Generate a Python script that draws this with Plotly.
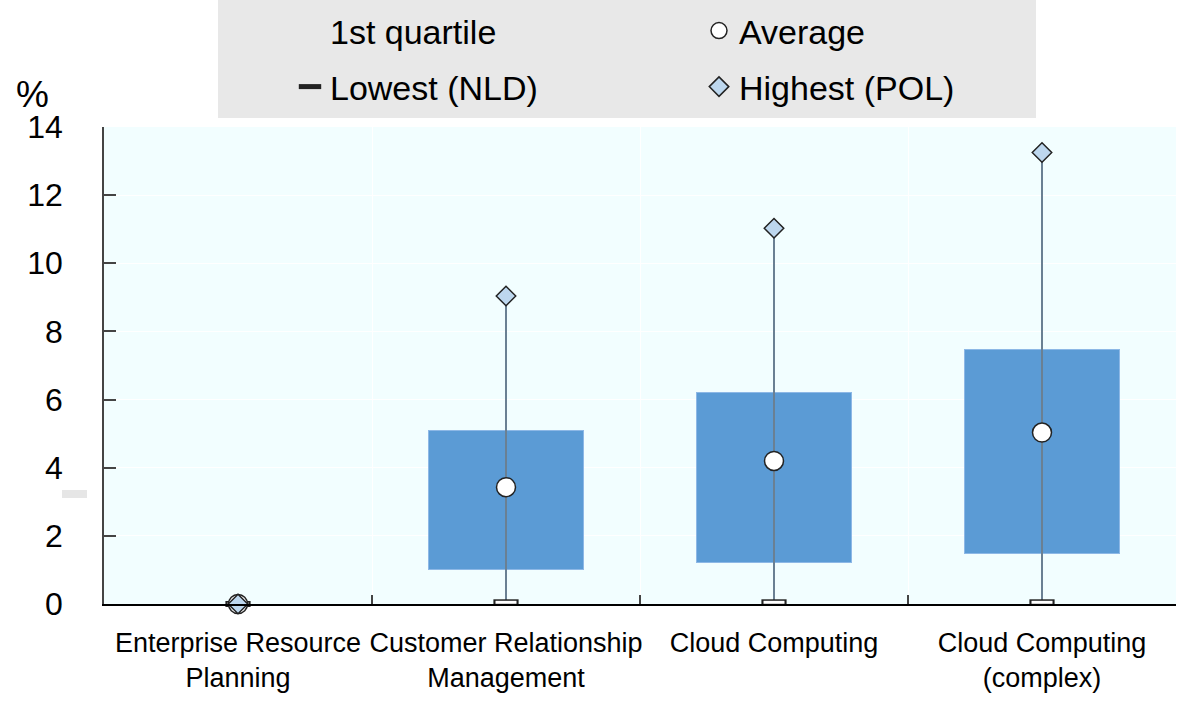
import plotly.graph_objects as go

# Category labels and summary statistics (%)
categories = [
    "Enterprise Resource<br>Planning",
    "Customer Relationship<br>Management",
    "Cloud Computing",
    "Cloud Computing<br>(complex)",
]
first_quartile = [0.0, 1.0, 1.22, 1.48]
third_quartile = [0.0, 5.08, 6.2, 7.46]
average = [0.0, 3.43, 4.2, 5.03]
lowest_nld = [0.0, 0.05, 0.05, 0.05]
highest_pol = [0.0, 9.04, 11.03, 13.25]

FONT = "Liberation Sans, Arial, sans-serif"
BAR_BLUE = "#5B9BD5"
WHISKER = "#6A8093"
OUTLINE = "#222222"

W, H = 1192, 706
L, R, T, B = 104, 16, 127, 102
pw, ph = W - L - R, H - T - B


def px_x(x):
    return (x - L) / pw


def px_y(y):
    return (H - B - y) / ph


fig = go.Figure()

# invisible base up to the first quartile (legend entry only)
fig.add_trace(go.Bar(
    x=categories, y=first_quartile, name="1st quartile",
    marker=dict(color="rgba(0,0,0,0)", line=dict(width=0)),
    legend="legend", legendrank=1, hoverinfo="skip",
))
# interquartile range stacked on top
iqr = [q3 - q1 for q1, q3 in zip(first_quartile, third_quartile)]
fig.add_trace(go.Bar(
    x=categories, y=iqr, name="Interquartile range",
    marker=dict(color=BAR_BLUE, line=dict(width=1, color="#8DB8E6")),
    showlegend=False,
))

# whiskers from lowest to highest
wx, wy = [], []
for c, lo, hi in zip(categories, lowest_nld, highest_pol):
    wx += [c, c, None]
    wy += [lo, hi, None]
fig.add_trace(go.Scatter(
    x=wx, y=wy, mode="lines", line=dict(color=WHISKER, width=2),
    showlegend=False, hoverinfo="skip", cliponaxis=False,
))

# lowest value: outlined flat rectangle
fig.add_trace(go.Scatter(
    x=categories, y=lowest_nld, mode="markers", name="Lowest (NLD)",
    marker=dict(symbol="line-ew", size=18, color=OUTLINE,
                line=dict(width=6, color=OUTLINE)),
    cliponaxis=False, legend="legend2", legendrank=3,
))
fig.add_trace(go.Scatter(
    x=categories, y=lowest_nld, mode="markers", showlegend=False,
    marker=dict(symbol="line-ew", size=15, color="white",
                line=dict(width=3, color="white")),
    cliponaxis=False, hoverinfo="skip",
))

fig.add_trace(go.Scatter(
    x=categories, y=average, mode="markers", name="Average",
    marker=dict(symbol="circle", size=19, color="white",
                line=dict(width=1.5, color=OUTLINE)),
    cliponaxis=False, legend="legend", legendrank=2,
))
fig.add_trace(go.Scatter(
    x=categories, y=highest_pol, mode="markers", name="Highest (POL)",
    marker=dict(symbol="diamond", size=15, color="#BDD7EE",
                line=dict(width=1.5, color=OUTLINE)),
    cliponaxis=False, legend="legend2", legendrank=4,
))

legend_common = dict(
    orientation="h", xanchor="left", yanchor="top",
    bgcolor="rgba(0,0,0,0)", font=dict(size=34, family=FONT, color="black"),
    entrywidth=364, entrywidthmode="pixels", traceorder="normal",
    itemsizing="trace",
)

fig.update_layout(
    width=W, height=H,
    margin=dict(l=L, r=R, t=T, b=B, pad=0, autoexpand=False),
    paper_bgcolor="white",
    plot_bgcolor="#F2FEFF",
    barmode="stack",
    bargap=0.425,
    font=dict(family=FONT, color="black", size=26),
    legend=dict(x=px_x(290), y=px_y(2), **legend_common),
    legend2=dict(x=px_x(290), y=px_y(58), **legend_common),
    shapes=[
        dict(type="rect", xref="paper", yref="paper",
             x0=px_x(218), x1=px_x(1036), y0=px_y(118), y1=px_y(0),
             fillcolor="#E8E8E8", line=dict(width=0), layer="below"),
        dict(type="rect", xref="paper", yref="paper",
             x0=px_x(62), x1=px_x(87), y0=px_y(498), y1=px_y(490),
             fillcolor="#E6E6E6", line=dict(width=0)),
    ],
    annotations=[
        dict(text="%", xref="paper", yref="paper", x=px_x(14), y=px_y(72),
             xanchor="left", yanchor="top", showarrow=False,
             font=dict(size=37, family=FONT)),
    ],
)

fig.update_xaxes(
    type="category", tickson="boundaries", tickangle=0,
    showline=True, linecolor="black", linewidth=1.5,
    ticks="inside", ticklen=9, tickcolor="#444444", tickwidth=1.5,
    showgrid=True, gridcolor="white", gridwidth=1,
    tickfont=dict(size=27, family=FONT), ticklabelstandoff=14,
    mirror=False, zeroline=False,
)
fig.update_yaxes(
    range=[0, 14], tickvals=[0, 2, 4, 6, 8, 10, 12, 14],
    showline=True, linecolor="#444444", linewidth=1.5,
    ticks="inside", ticklen=12, tickcolor="#444444", tickwidth=1.5,
    showgrid=True, gridcolor="white", gridwidth=1, zeroline=False,
    tickfont=dict(size=32, family=FONT), ticklabelstandoff=33,
)

fig.write_html("out.html")
